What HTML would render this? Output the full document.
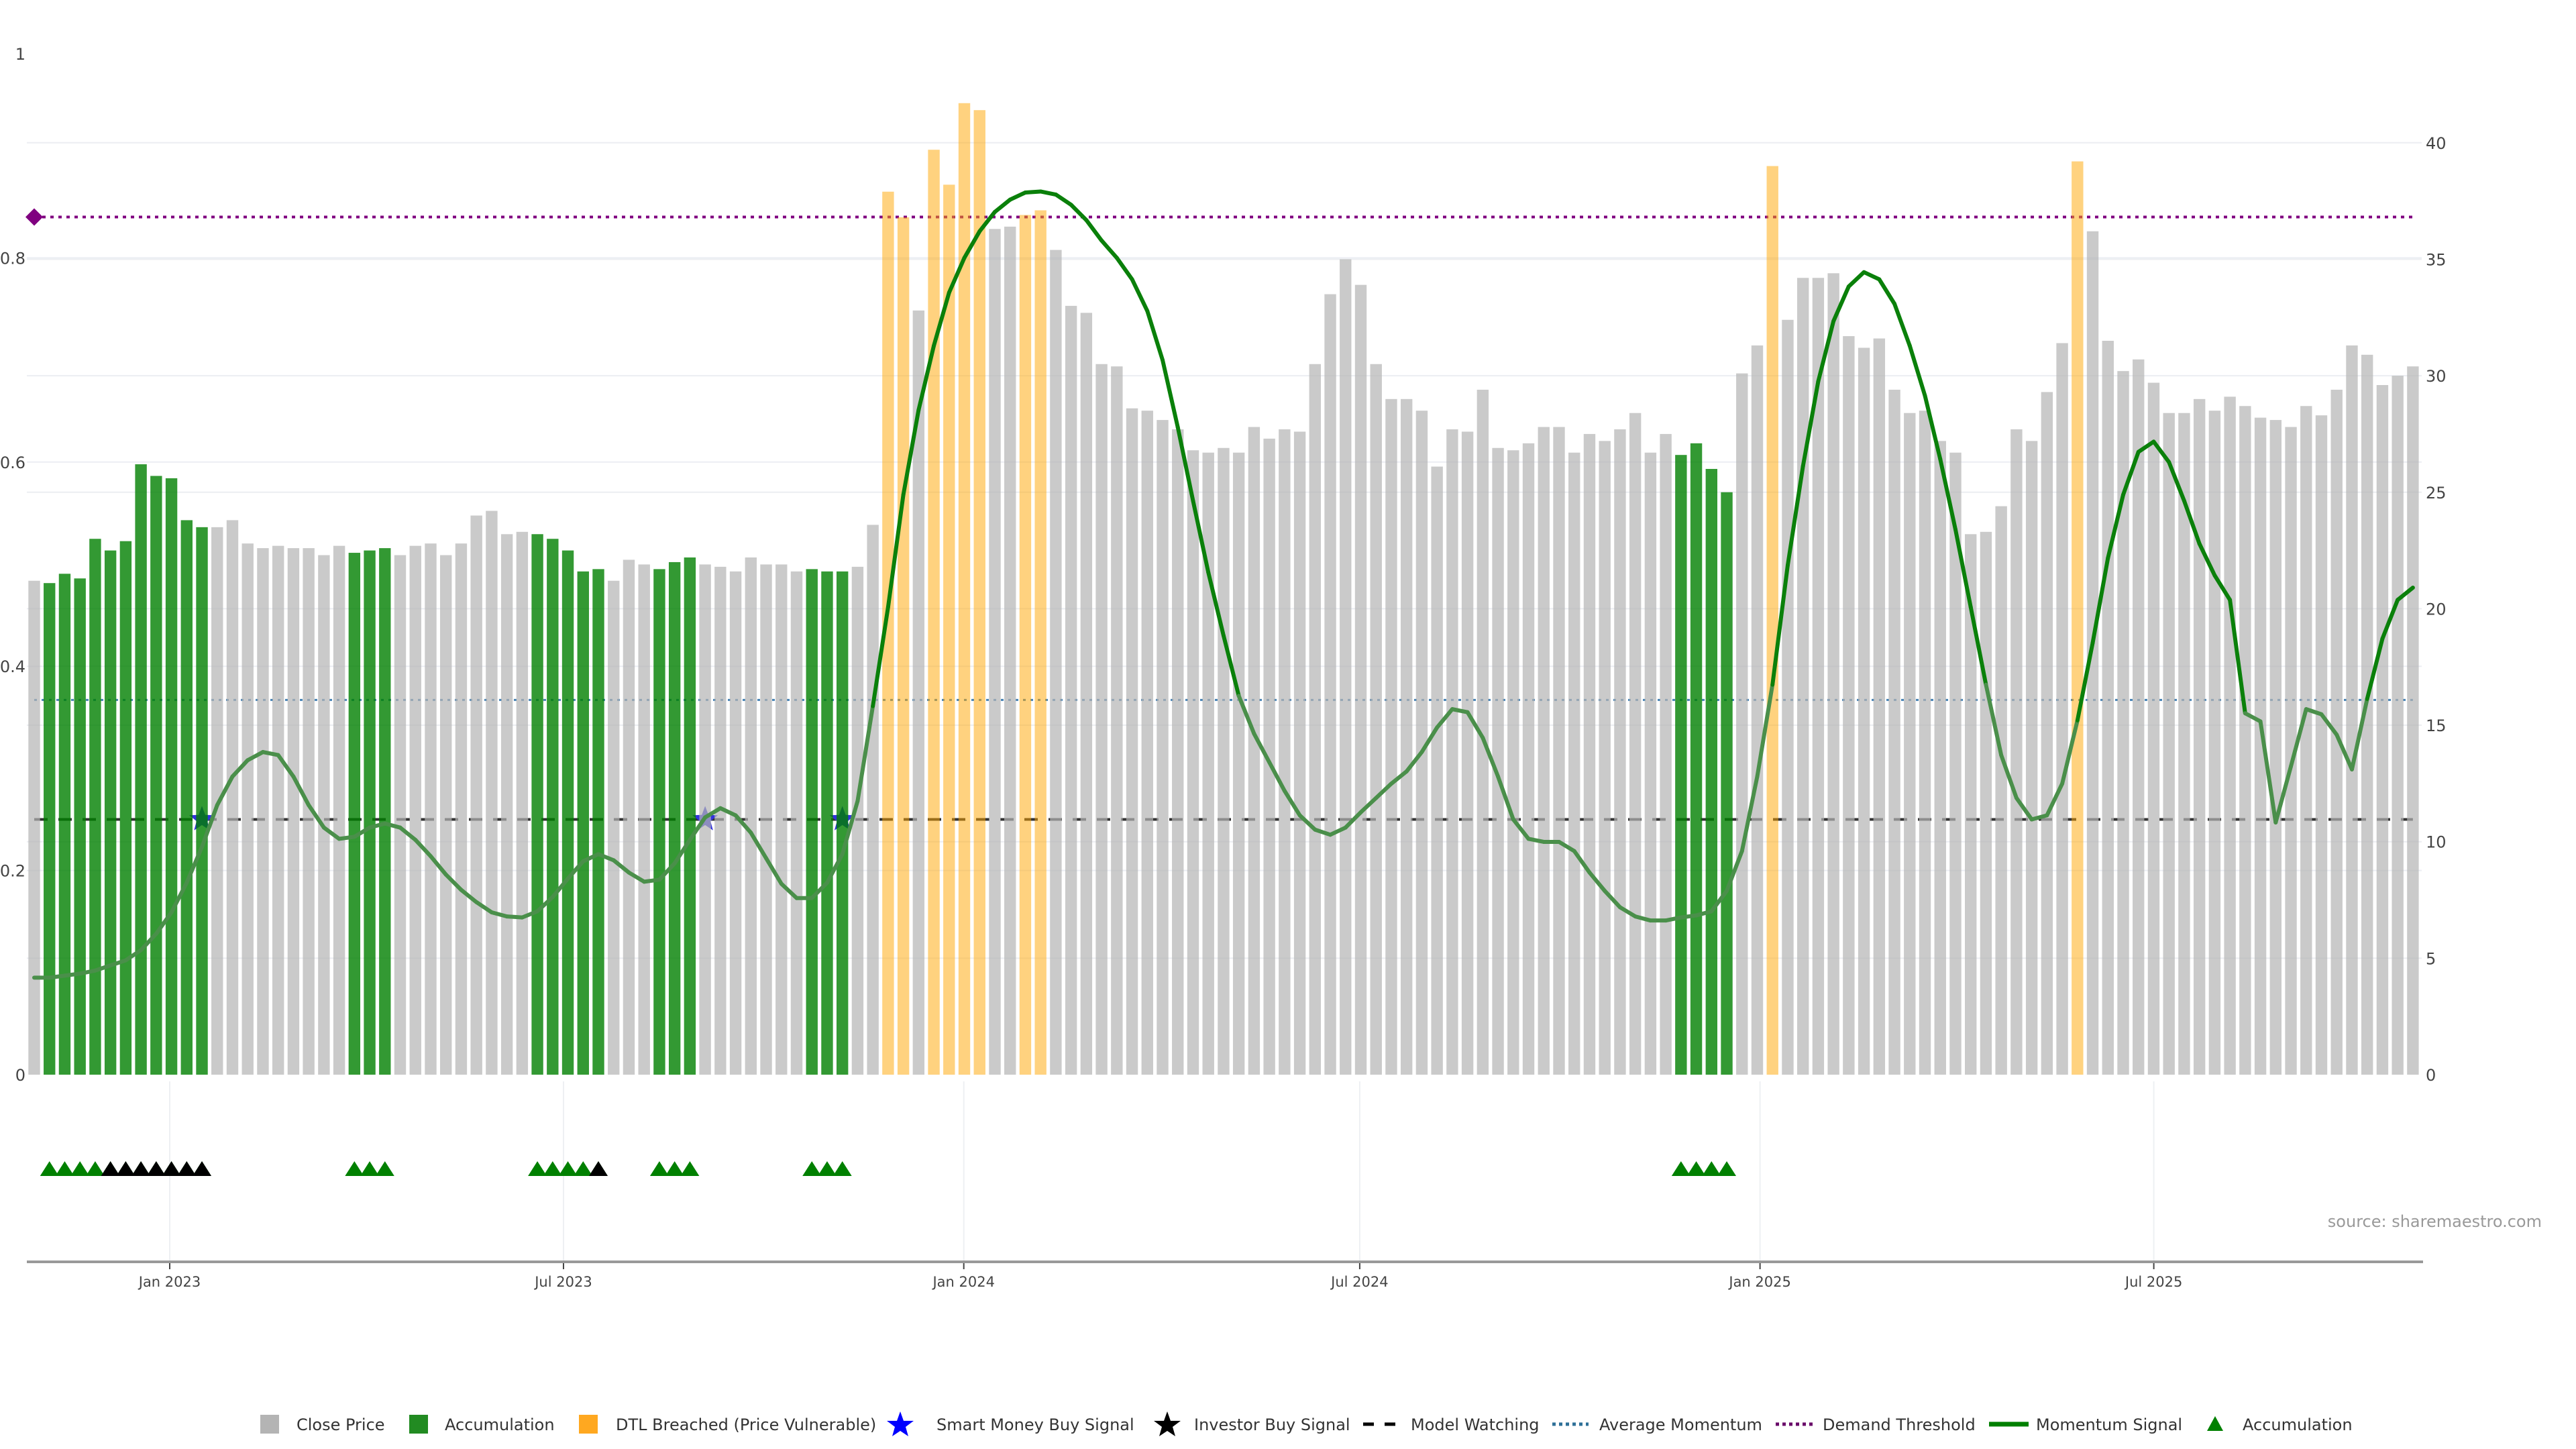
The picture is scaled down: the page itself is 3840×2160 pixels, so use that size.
<!DOCTYPE html>
<html><head><meta charset="utf-8"><style>
html,body{margin:0;padding:0;background:#fff;width:3840px;height:2160px;overflow:hidden}
svg text{font-family:"DejaVu Sans","Liberation Sans",sans-serif}
</style></head><body>
<svg id="chart" width="3840" height="2160" viewBox="0 0 3840 2160" xmlns="http://www.w3.org/2000/svg">
<g id="grid"></g>
<g id="refs"></g>
<g id="stars"></g>
<g id="bars"></g>
<g id="mline"></g>
<g id="axes"></g>
<g id="tri"></g>
<text x="3789" y="1829" text-anchor="end" font-size="24" fill="#999">source: sharemaestro.com</text>
<g id="legend">
<rect x="388" y="2109" width="28" height="28" fill="#b4b4b4"/>
<text x="442" y="2132" font-size="24" fill="#333">Close Price</text>
<rect x="610" y="2109" width="28" height="28" fill="#228b22"/>
<text x="663" y="2132" font-size="24" fill="#333">Accumulation</text>
<rect x="863" y="2109" width="28" height="28" fill="#ffa820"/>
<text x="918" y="2132" font-size="24" fill="#333">DTL Breached (Price Vulnerable)</text>
<polygon fill="#0000ff" points="1342,2104 1347,2118 1362,2118 1350,2127 1354,2141 1342,2133 1330,2141 1334,2127 1322,2118 1337,2118"/>
<text x="1396" y="2132" font-size="24" fill="#333">Smart Money Buy Signal</text>
<polygon fill="#000" points="1740,2104 1745,2118 1760,2118 1748,2127 1752,2141 1740,2133 1728,2141 1732,2127 1720,2118 1735,2118"/>
<text x="1780" y="2132" font-size="24" fill="#333">Investor Buy Signal</text>
<line x1="2032" y1="2123" x2="2088" y2="2123" stroke="#000" stroke-width="5" stroke-dasharray="16,16"/>
<text x="2103" y="2132" font-size="24" fill="#333">Model Watching</text>
<line x1="2314" y1="2123" x2="2368" y2="2123" stroke="#2e7098" stroke-width="5" stroke-dasharray="5,5"/>
<text x="2384" y="2132" font-size="24" fill="#333">Average Momentum</text>
<line x1="2647" y1="2123" x2="2702" y2="2123" stroke="#6a0a6a" stroke-width="5" stroke-dasharray="5,5"/>
<text x="2717" y="2132" font-size="24" fill="#333">Demand Threshold</text>
<line x1="2965" y1="2123" x2="3024" y2="2123" stroke="#008000" stroke-width="7"/>
<text x="3035" y="2132" font-size="24" fill="#333">Momentum Signal</text>
<polygon fill="#008000" points="3302,2111 3314,2133 3290,2133"/>
<text x="3343" y="2132" font-size="24" fill="#333">Accumulation</text>
</g>
</svg>
<script>
const prices = [21.2,21.1,21.5,21.3,23.0,22.5,22.9,26.2,25.7,25.6,
23.8,23.5,23.5,23.8,22.8,22.6,22.7,22.6,22.6,22.3,
22.7,22.4,22.5,22.6,22.3,22.7,22.8,22.3,22.8,24.0,
24.2,23.2,23.3,23.2,23.0,22.5,21.6,21.7,21.2,22.1,
21.9,21.7,22.0,22.2,21.9,21.8,21.6,22.2,21.9,21.9,
21.6,21.7,21.6,21.6,21.8,23.6,37.9,36.8,32.8,39.7,
38.2,41.7,41.4,36.3,36.4,36.9,37.1,35.4,33.0,32.7,
30.5,30.4,28.6,28.5,28.1,27.7,26.8,26.7,26.9,26.7,
27.8,27.3,27.7,27.6,30.5,33.5,35.0,33.9,30.5,29.0,
29.0,28.5,26.1,27.7,27.6,29.4,26.9,26.8,27.1,27.8,
27.8,26.7,27.5,27.2,27.7,28.4,26.7,27.5,26.6,27.1,
26.0,25.0,30.1,31.3,39.0,32.4,34.2,34.2,34.4,31.7,
31.2,31.6,29.4,28.4,28.5,27.2,26.7,23.2,23.3,24.4,
27.7,27.2,29.3,31.4,39.2,36.2,31.5,30.2,30.7,29.7,
28.4,28.4,29.0,28.5,29.1,28.7,28.2,28.1,27.8,28.7,
28.3,29.4,31.3,30.9,29.6,30.0,30.4];
const momentum = [.095,.095,.097,.099,.102,.107,.112,.122,.138,.159,
.188,.223,.264,.292,.308,.316,.313,.292,.264,.242,
.231,.233,.242,.246,.242,.230,.214,.196,.181,.169,
.159,.155,.154,.160,.174,.192,.209,.216,.210,.198,
.189,.191,.207,.230,.252,.261,.254,.237,.212,.187,
.173,.173,.188,.216,.268,.361,
.458,.568,.651,.714,.766,.800,.826,.845,.857,.864,
.865,.862,.852,.837,.817,.800,.779,.748,.700,.634,
.562,.492,.430,.371,.334,.306,.278,.254,.240,.235,
.242,.257,.271,.285,.297,.316,.340,.358,.355,.330,
.292,.250,.231,.228,.228,.219,.198,.180,.164,.155,
.151,.151,.154,.156,
.160,.180,.219,.292,.382,.499,.596,.679,.738,.772,
.786,.779,.755,.714,.665,.603,.534,.458,.382,.313,
.271,.250,.254,.285,.347,.423,.506,.568,.610,.620,
.600,.562,.520,.489,.465,.354,.346,.247,.302,.358,
.353,.333,.299,.368,.427,.465,.477];
const accumIdx = [1,2,3,4,5,6,7,8,9,10,11,21,22,23,33,34,35,36,37,41,42,43,51,52,53,108,109,110,111];
const dtlIdx = [56,57,59,60,61,62,65,66,114,134];
const smartMoneyIdx = [11,44,53];
const investorIdx = [5,6,7,8,9,10,11,37];
const demandThreshold = 0.84;
const avgMomentum = 0.367;
const modelWatching = 0.25;
const leftTicks = [0,0.2,0.4,0.6,0.8,1];
const leftTickLabels = ["0","0.2","0.4","0.6","0.8","1"];
const rightTicks = [0,5,10,15,20,25,30,35,40];
const dateTicks = ["2023-01-01","2023-07-01","2024-01-01","2024-07-01","2025-01-01","2025-07-01"];
const dateTickLabels = ["Jan 2023","Jul 2023","Jan 2024","Jul 2024","Jan 2025","Jul 2025"];

const NS="http://www.w3.org/2000/svg";
const X0=51, STEP=22.73, Y0=1602;
const xi=i=>X0+i*STEP;
const yR=v=>Y0-v*34.73;
const yL=v=>Y0-v*1522;
const xd=s=>253+(Date.parse(s)-Date.parse("2023-01-01"))/86400000*3.243;
function mk(tag,parent,attrs){const e=document.createElementNS(NS,tag);for(const k in attrs)e.setAttribute(k,attrs[k]);document.getElementById(parent).appendChild(e);return e;}
const XL=40, XR=3610;

rightTicks.forEach((t,k)=>{
  if(t!==0){
  const l=mk('line','grid',{x1:XL,x2:XR,y1:yR(t),y2:yR(t),stroke:'#eceef2','stroke-width':2});
  
  
  }
  const tx=mk('text','axes',{x:3616,y:yR(t)+9,'font-size':24,fill:'#444'});
  tx.textContent=String(t);
  
  
});
leftTicks.forEach((t,k)=>{
  if(t>0&&t<1){const l=mk('line','grid',{x1:XL,x2:XR,y1:yL(t),y2:yL(t),stroke:'#eceef4','stroke-width':2});
  
  }
  const tx=mk('text','axes',{x:38,y:yL(t)+9,'font-size':24,fill:'#444','text-anchor':'end'});
  tx.textContent=leftTickLabels[k];
  
  
});
dateTicks.forEach((d,k)=>{
  const x=xd(d);
  const g=mk('line','grid',{x1:x,x2:x,y1:1612,y2:1881,stroke:'#eef0f3','stroke-width':2});
  
  
  const tk=mk('line','axes',{x1:x,x2:x,y1:1881,y2:1892,stroke:'#444','stroke-width':2});
  
  
  const tx=mk('text','axes',{x:x,y:1918,'font-size':21,fill:'#444','text-anchor':'middle'});
  tx.textContent=dateTickLabels[k];
  
  
});
const ax=mk('line','axes',{x1:XL,x2:3612,y1:1881,y2:1881,stroke:'#999','stroke-width':4});



const lineEnd=xi(prices.length-1);
const dm=mk('line','refs',{x1:xi(0),x2:lineEnd,y1:yL(demandThreshold),y2:yL(demandThreshold),stroke:'#800080','stroke-width':4,'stroke-dasharray':'5,7'});


const dia=mk('polygon','refs',{points:`${xi(0)},${yL(demandThreshold)-13} ${xi(0)+13},${yL(demandThreshold)} ${xi(0)},${yL(demandThreshold)+13} ${xi(0)-13},${yL(demandThreshold)}`,fill:'#800080'});


const am=mk('line','refs',{x1:xi(0),x2:lineEnd,y1:yL(avgMomentum),y2:yL(avgMomentum),stroke:'#4682b4','stroke-width':3,'stroke-dasharray':'4,7'});


const mw=mk('line','refs',{x1:xi(0),x2:lineEnd,y1:yL(modelWatching),y2:yL(modelWatching),stroke:'#333','stroke-width':4,'stroke-dasharray':'20,16'});



function starPts(cx,cy,R){const r=R*0.42;let p=[];for(let k=0;k<10;k++){const a=-Math.PI/2+k*Math.PI/5;const rr=k%2?r:R;p.push((cx+rr*Math.cos(a)).toFixed(1)+','+(cy+rr*Math.sin(a)).toFixed(1));}return p.join(' ');}
smartMoneyIdx.forEach(i=>{
  const s=mk('polygon','stars',{points:starPts(xi(i),yL(modelWatching),20),fill:'#3333dd'});
  
  
});

prices.forEach((v,i)=>{
  let c='rgba(180,180,180,0.7)';
  if(accumIdx.includes(i))c='rgba(0,128,0,0.8)';
  if(dtlIdx.includes(i))c='rgba(255,165,0,0.5)';
  const b=mk('rect','bars',{x:xi(i)-8.7,y:yR(v),width:17.4,height:Y0-yR(v),fill:c});
  
  
});

for(let i=0;i<momentum.length-1;i++){
  const hi=(momentum[i]+momentum[i+1])/2>avgMomentum;
  const s=mk('line','mline',{x1:xi(i),y1:yL(momentum[i]),x2:xi(i+1),y2:yL(momentum[i+1]),stroke:hi?'#0a800a':'#4a8f4a','stroke-width':6,'stroke-linecap':'round'});
  
  
}

accumIdx.forEach(i=>{
  const x=xi(i);
  const t=mk('polygon','tri',{points:`${x},1731 ${x+14},1753 ${x-14},1753`,fill:'#008000'});
  
  
});
investorIdx.forEach(i=>{
  const x=xi(i);
  const t=mk('polygon','tri',{points:`${x},1731 ${x+14},1753 ${x-14},1753`,fill:'#000'});
  
  
});
</script>
</body></html>
